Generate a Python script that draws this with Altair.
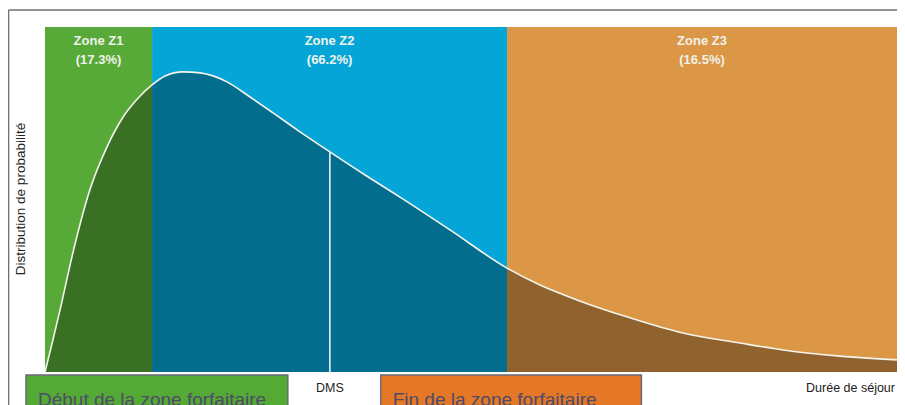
import altair as alt
import pandas as pd

# ---- data (duration in days, density as share of plot height) ----
duree = [0, 0.28, 0.53, 0.99, 1.58, 2.18, 2.75, 3.35, 3.77, 4.23, 4.86, 5.46, 6.41,
         7.22, 8.03, 8.98, 10.03, 11.27, 12.50, 14.26, 16.27, 17.43, 18.73, 20.60,
         22.46, 24.47, 25.99, 27.99, 30.0]
densite = [0, 0.093, 0.180, 0.348, 0.528, 0.652, 0.739, 0.800, 0.832, 0.858, 0.870,
           0.867, 0.841, 0.797, 0.751, 0.696, 0.638, 0.571, 0.507, 0.412, 0.301,
           0.252, 0.209, 0.157, 0.113, 0.084, 0.064, 0.046, 0.035]

zones = ["Zone Z1", "Zone Z2", "Zone Z3"]
zone_pct = ["(17.3%)", "(66.2%)", "(16.5%)"]
zone_start = [0, 3.77, 16.27]
zone_end = [3.77, 16.27, 30.0]
zone_light = ["#58AA38", "#05A6D7", "#DB9746"]

dms_x = 10.03
dms_y = 0.638

box_labels = ["Début de la zone forfaitaire", "Fin de la zone forfaitaire"]
box_start = [-0.67, 11.82]
box_end = [8.55, 21.0]
box_colors = ["#55A935", "#E47826"]

W, H = 852, 345

# ---- tables ----
bands = pd.DataFrame({"zone": zones, "pct": zone_pct, "x0": zone_start, "x1": zone_end,
                      "y0": 0.0, "y1": 1.0})
bands["mid"] = (bands["x0"] + bands["x1"]) / 2

curve = pd.DataFrame({"x": duree, "y": densite})
boxes = pd.DataFrame({"label": box_labels, "x0": box_start, "x1": box_end, "col": box_colors})
dms_df = pd.DataFrame({"x": [dms_x], "y0": [0.0], "y1": [dms_y], "label": ["DMS"]})
end_df = pd.DataFrame({"x": [30.0], "label": ["Durée de séjour"]})

xs = alt.Scale(domain=[0, 30], nice=False, zero=False)
ys = alt.Scale(domain=[0, 1], nice=False, zero=False)
light_scale = alt.Scale(domain=zones, range=zone_light)

band_layer = alt.Chart(bands).mark_rect().encode(
    x=alt.X("x0:Q", scale=xs, axis=None), x2="x1:Q",
    y=alt.Y("y0:Q", scale=ys, axis=None), y2="y1:Q",
    fill=alt.Fill("zone:N", scale=light_scale, legend=None),
)

# darker shade under the curve (same hue, darkened)
area_layer = alt.Chart(curve).mark_area(interpolate="monotone", color="#000000", opacity=0.34).encode(
    x=alt.X("x:Q", scale=xs, axis=None),
    y=alt.Y("y:Q", scale=ys, axis=None, stack=None),
)

line_layer = alt.Chart(curve).mark_line(interpolate="monotone", color="#F4F4EC", strokeWidth=1.6).encode(
    x=alt.X("x:Q", scale=xs, axis=None),
    y=alt.Y("y:Q", scale=ys, axis=None),
)

dms_rule = alt.Chart(dms_df).mark_rule(color="#E8F0F4", strokeWidth=1.6).encode(
    x=alt.X("x:Q", scale=xs, axis=None),
    y=alt.Y("y0:Q", scale=ys, axis=None), y2="y1:Q",
)

zone_title = alt.Chart(bands).mark_text(
    font="Liberation Sans", fontSize=13, fontWeight="bold", color="#EEF2EA", align="center",
    baseline="alphabetic").encode(
    x=alt.X("mid:Q", scale=xs, axis=None), y=alt.value(18), text="zone:N")

zone_pct_t = alt.Chart(bands).mark_text(
    font="Liberation Sans", fontSize=13, fontWeight="bold", color="#EEF2EA", align="center",
    baseline="alphabetic").encode(
    x=alt.X("mid:Q", scale=xs, axis=None), y=alt.value(37), text="pct:N")

dms_text = alt.Chart(dms_df).mark_text(
    font="Liberation Sans", fontSize=12.5, color="#222222", align="center",
    baseline="alphabetic").encode(
    x=alt.X("x:Q", scale=xs, axis=None), y=alt.value(365), text="label:N")

end_text = alt.Chart(end_df).mark_text(
    font="Liberation Sans", fontSize=12.5, color="#222222", align="right",
    baseline="alphabetic", dx=-2).encode(
    x=alt.X("x:Q", scale=xs, axis=None), y=alt.value(365), text="label:N")

box_layer = alt.Chart(boxes).mark_rect(stroke="#6A6A78", strokeWidth=1.5).encode(
    x=alt.X("x0:Q", scale=xs, axis=None), x2="x1:Q",
    y=alt.value(348), y2=alt.value(420),
    fill=alt.Fill("col:N", scale=None, legend=None),
)

box_text = alt.Chart(boxes).mark_text(
    font="Liberation Sans", fontSize=19, color="#4D4B6A", align="left", baseline="alphabetic",
    dx=12).encode(
    x=alt.X("x0:Q", scale=xs, axis=None), y=alt.value(379), text="label:N")

ytitle = alt.Chart(pd.DataFrame({"t": ["Distribution de probabilité"]})).mark_text(
    font="Liberation Sans", fontSize=13.5, color="#222222", angle=270, align="center",
    baseline="alphabetic").encode(
    x=alt.value(-20), y=alt.value(172), text="t:N")

frame_top = alt.Chart(pd.DataFrame({"a": [0]})).mark_rule(color="#707070", strokeWidth=1.6).encode(
    x=alt.value(-36.5), x2=alt.value(W + 10), y=alt.value(-17))
frame_left = alt.Chart(pd.DataFrame({"a": [0]})).mark_rule(color="#707070", strokeWidth=1.6).encode(
    x=alt.value(-36.5), y=alt.value(-17), y2=alt.value(H + 60))

chart = alt.layer(
    band_layer, area_layer, line_layer, dms_rule, zone_title, zone_pct_t,
    dms_text, end_text, box_layer, box_text, ytitle, frame_top, frame_left,
).resolve_scale(fill="independent").properties(
    width=W, height=H,
    autosize=alt.AutoSizeParams(type="none"),
    padding={"left": 37, "top": 19, "right": 0, "bottom": 33},
    background="white",
).configure_view(stroke=None)

chart.save("out.html", embed_options={"renderer": "svg", "actions": False})
